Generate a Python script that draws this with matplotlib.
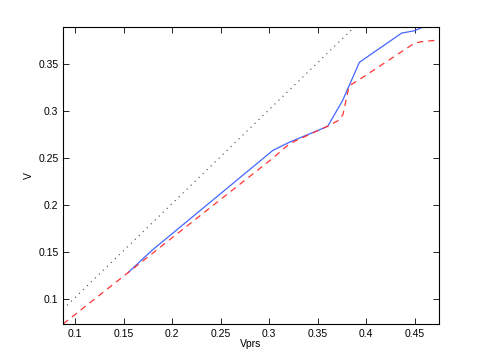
import matplotlib
matplotlib.use("Agg")
import matplotlib.pyplot as plt

plt.rcParams['font.family'] = ['Liberation Sans', 'DejaVu Sans']

xlim = [0.0873, 0.475]
ylim = [0.0733, 0.3887]

# dotted reference line y = x
ref_x = [0.0873, 0.475]
ref_y = [0.0890, 0.4760]

# blue solid
blue_x = [0.1545, 0.1786, 0.3037, 0.3209, 0.3603, 0.3757, 0.3930, 0.4365, 0.4495, 0.4620]
blue_y = [0.1280, 0.1512, 0.2578, 0.2666, 0.2834, 0.3110, 0.3515, 0.3825, 0.3850, 0.3905]

# red dashed
red_x = [0.0873, 0.1545, 0.3037, 0.3209, 0.3600, 0.3720, 0.3760, 0.3824, 0.3935, 0.4500, 0.4580, 0.4750]
red_y = [0.0733, 0.1280, 0.2496, 0.2650, 0.2835, 0.2900, 0.2960, 0.3265, 0.3335, 0.3720, 0.3735, 0.3752]

xticks = [0.1, 0.15, 0.2, 0.25, 0.3, 0.35, 0.4, 0.45]
yticks = [0.1, 0.15, 0.2, 0.25, 0.3, 0.35]

fig = plt.figure(figsize=(4.85, 3.64), dpi=100)
ax = fig.add_axes([0.13, 0.11, 0.775, 0.815])
ax.plot(ref_x, ref_y, linestyle=(0, (1, 4)), color='#444444', lw=0.8)
ax.plot(blue_x, blue_y, '-', color='#4466ff', lw=0.9)
ax.plot(red_x, red_y, '--', color='#ff3333', lw=0.9, dashes=(5, 4))
ax.set_xlim(xlim)
ax.set_ylim(ylim)
ax.set_xticks(xticks)
ax.set_xticklabels([f"{t:g}" for t in xticks])
ax.set_yticks(yticks)
ax.set_yticklabels([f"{t:g}" for t in yticks])
ax.tick_params(direction='in', top=True, right=True, labelsize=7.5, length=4, width=0.6, pad=3.3)
for s in ax.spines.values():
    s.set_linewidth(0.8)
ax.set_xlabel('Vprs', fontsize=7.5, labelpad=0.5)
ax.set_ylabel('V', fontsize=7.5, labelpad=3)
fig.savefig('out.png', dpi=100)
